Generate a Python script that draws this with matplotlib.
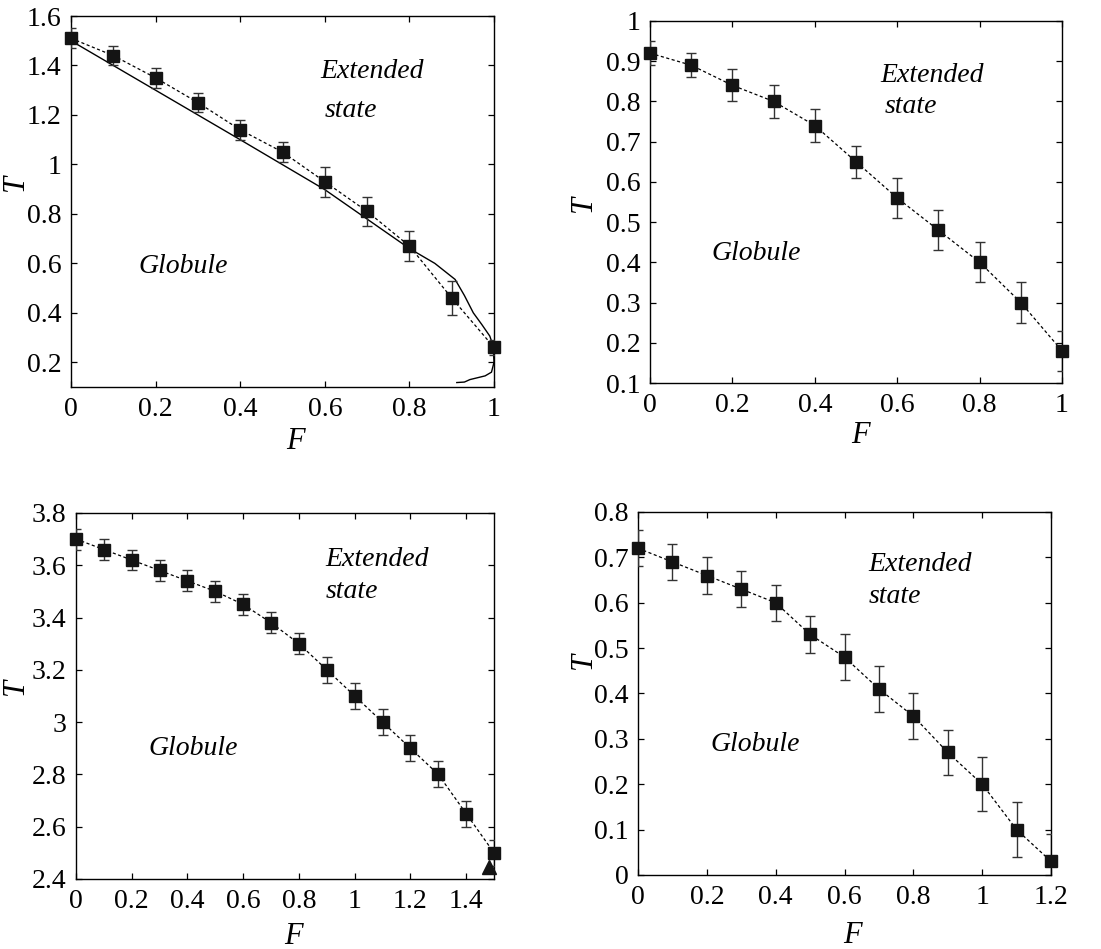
import numpy as np
import matplotlib
matplotlib.use('Agg')
import matplotlib.pyplot as plt
from matplotlib.ticker import FuncFormatter, MultipleLocator

plt.rcParams['font.family'] = ['Liberation Serif', 'DejaVu Serif']

# panel a
F1 = [0, 0.1, 0.2, 0.3, 0.4, 0.5, 0.6, 0.7, 0.8, 0.9, 1.0]
T1 = [1.51, 1.44, 1.35, 1.25, 1.14, 1.05, 0.93, 0.81, 0.67, 0.46, 0.26]
E1 = [0.04, 0.04, 0.04, 0.04, 0.04, 0.04, 0.06, 0.06, 0.06, 0.07, 0.03]
# theory curve in panel a
thF = [0, 0.2, 0.4, 0.6, 0.8, 0.86, 0.908, 0.93, 0.951, 0.971, 0.99, 0.998, 1.0, 0.994, 0.979, 0.943, 0.93, 0.912]
thT = [1.50, 1.30, 1.10, 0.898, 0.66, 0.60, 0.535, 0.47, 0.40, 0.353, 0.306, 0.266, 0.20, 0.16, 0.145, 0.13, 0.12, 0.118]

# panel b
F2 = [0, 0.1, 0.2, 0.3, 0.4, 0.5, 0.6, 0.7, 0.8, 0.9, 1.0]
T2 = [0.92, 0.89, 0.84, 0.80, 0.74, 0.65, 0.56, 0.48, 0.40, 0.30, 0.18]
E2 = [0.03, 0.03, 0.04, 0.04, 0.04, 0.04, 0.05, 0.05, 0.05, 0.05, 0.05]

# panel c
F3 = [0, 0.1, 0.2, 0.3, 0.4, 0.5, 0.6, 0.7, 0.8, 0.9, 1.0, 1.1, 1.2, 1.3, 1.4, 1.5]
T3 = [3.70, 3.66, 3.62, 3.58, 3.54, 3.50, 3.45, 3.38, 3.30, 3.20, 3.10, 3.00, 2.90, 2.80, 2.65, 2.50]
E3 = [0.04, 0.04, 0.04, 0.04, 0.04, 0.04, 0.04, 0.04, 0.04, 0.05, 0.05, 0.05, 0.05, 0.05, 0.05, 0.05]
triF = [1.483]
triT = [2.447]

# panel d
F4 = [0, 0.1, 0.2, 0.3, 0.4, 0.5, 0.6, 0.7, 0.8, 0.9, 1.0, 1.1, 1.2]
T4 = [0.72, 0.69, 0.66, 0.63, 0.60, 0.53, 0.48, 0.41, 0.35, 0.27, 0.20, 0.10, 0.03]
E4 = [0.04, 0.04, 0.04, 0.04, 0.04, 0.04, 0.05, 0.05, 0.05, 0.05, 0.06, 0.06, 0.06]

fig = plt.figure(figsize=(11.01, 9.49), dpi=100)

fmt = FuncFormatter(lambda v, p: f'{v:g}')


def panel(rect, F, T, E, xlim, ylim, xstep, ystep, ext, glob, tpos, fpos):
    ax = fig.add_axes(rect)
    ax.plot(F, T, color='k', ls=(0, (2.5, 2)), lw=0.9, zorder=2)
    ax.errorbar(F, T, yerr=E, fmt='none', ecolor='#333333', elinewidth=1.0,
                capsize=3.5, capthick=1.0, zorder=3)
    ax.plot(F, T, ls='none', marker='s', ms=8.5, color='#141414', zorder=4, clip_on=False)
    ax.set_xlim(*xlim)
    ax.set_ylim(*ylim)
    ax.xaxis.set_major_locator(MultipleLocator(xstep))
    ax.yaxis.set_major_locator(MultipleLocator(ystep))
    ax.xaxis.set_major_formatter(fmt)
    ax.yaxis.set_major_formatter(fmt)
    ax.tick_params(direction='in', length=4.5, width=0.9, top=True, right=True,
                   labelsize=20, pad=7)
    for s in ax.spines.values():
        s.set_linewidth(1.0)
    ax.set_xlabel('F', fontsize=22, style='italic')
    ax.set_ylabel('T', fontsize=22, style='italic')
    ax.yaxis.set_label_coords(*tpos)
    ax.xaxis.set_label_coords(*fpos)
    ax.text(ext[0], ext[1], 'Extended', fontsize=20, style='italic', va='center')
    ax.text(ext[2], ext[3], 'state', fontsize=20, style='italic', va='center')
    ax.text(glob[0], glob[1], 'Globule', fontsize=20, style='italic', va='center')
    return ax


ax1 = panel([0.0645, 0.5922, 0.3842, 0.3909], F1, T1, E1, (0, 1), (0.1, 1.6), 0.2, 0.2,
            (0.589, 1.375, 0.60, 1.22), (0.159, 0.588), (-0.097, 0.55), (0.53, -0.108))
ax1.plot(thF, thT, color='k', lw=1.0, zorder=2)

ax2 = panel([0.5904, 0.5964, 0.3742, 0.3815], F2, T2, E2, (0, 1), (0.1, 1.0), 0.2, 0.1,
            (0.558, 0.865, 0.57, 0.788), (0.148, 0.422), (-0.126, 0.497), (0.51, -0.105))

ax3 = panel([0.069, 0.0738, 0.3797, 0.3857], F3, T3, E3, (0, 1.5), (2.4, 3.8), 0.2, 0.2,
            (0.896, 3.62, 0.896, 3.498), (0.261, 2.90), (-0.11, 0.525), (0.52, -0.117))
ax3.plot(triF, triT, ls='none', marker='^', ms=10, color='#141414', zorder=5, clip_on=False)

ax4 = panel([0.5795, 0.078, 0.3751, 0.3825], F4, T4, E4, (0, 1.2), (0, 0.8), 0.2, 0.1,
            (0.669, 0.684, 0.669, 0.614), (0.211, 0.287), (-0.097, 0.59), (0.52, -0.128))

fig.savefig('out.png', dpi=100)
